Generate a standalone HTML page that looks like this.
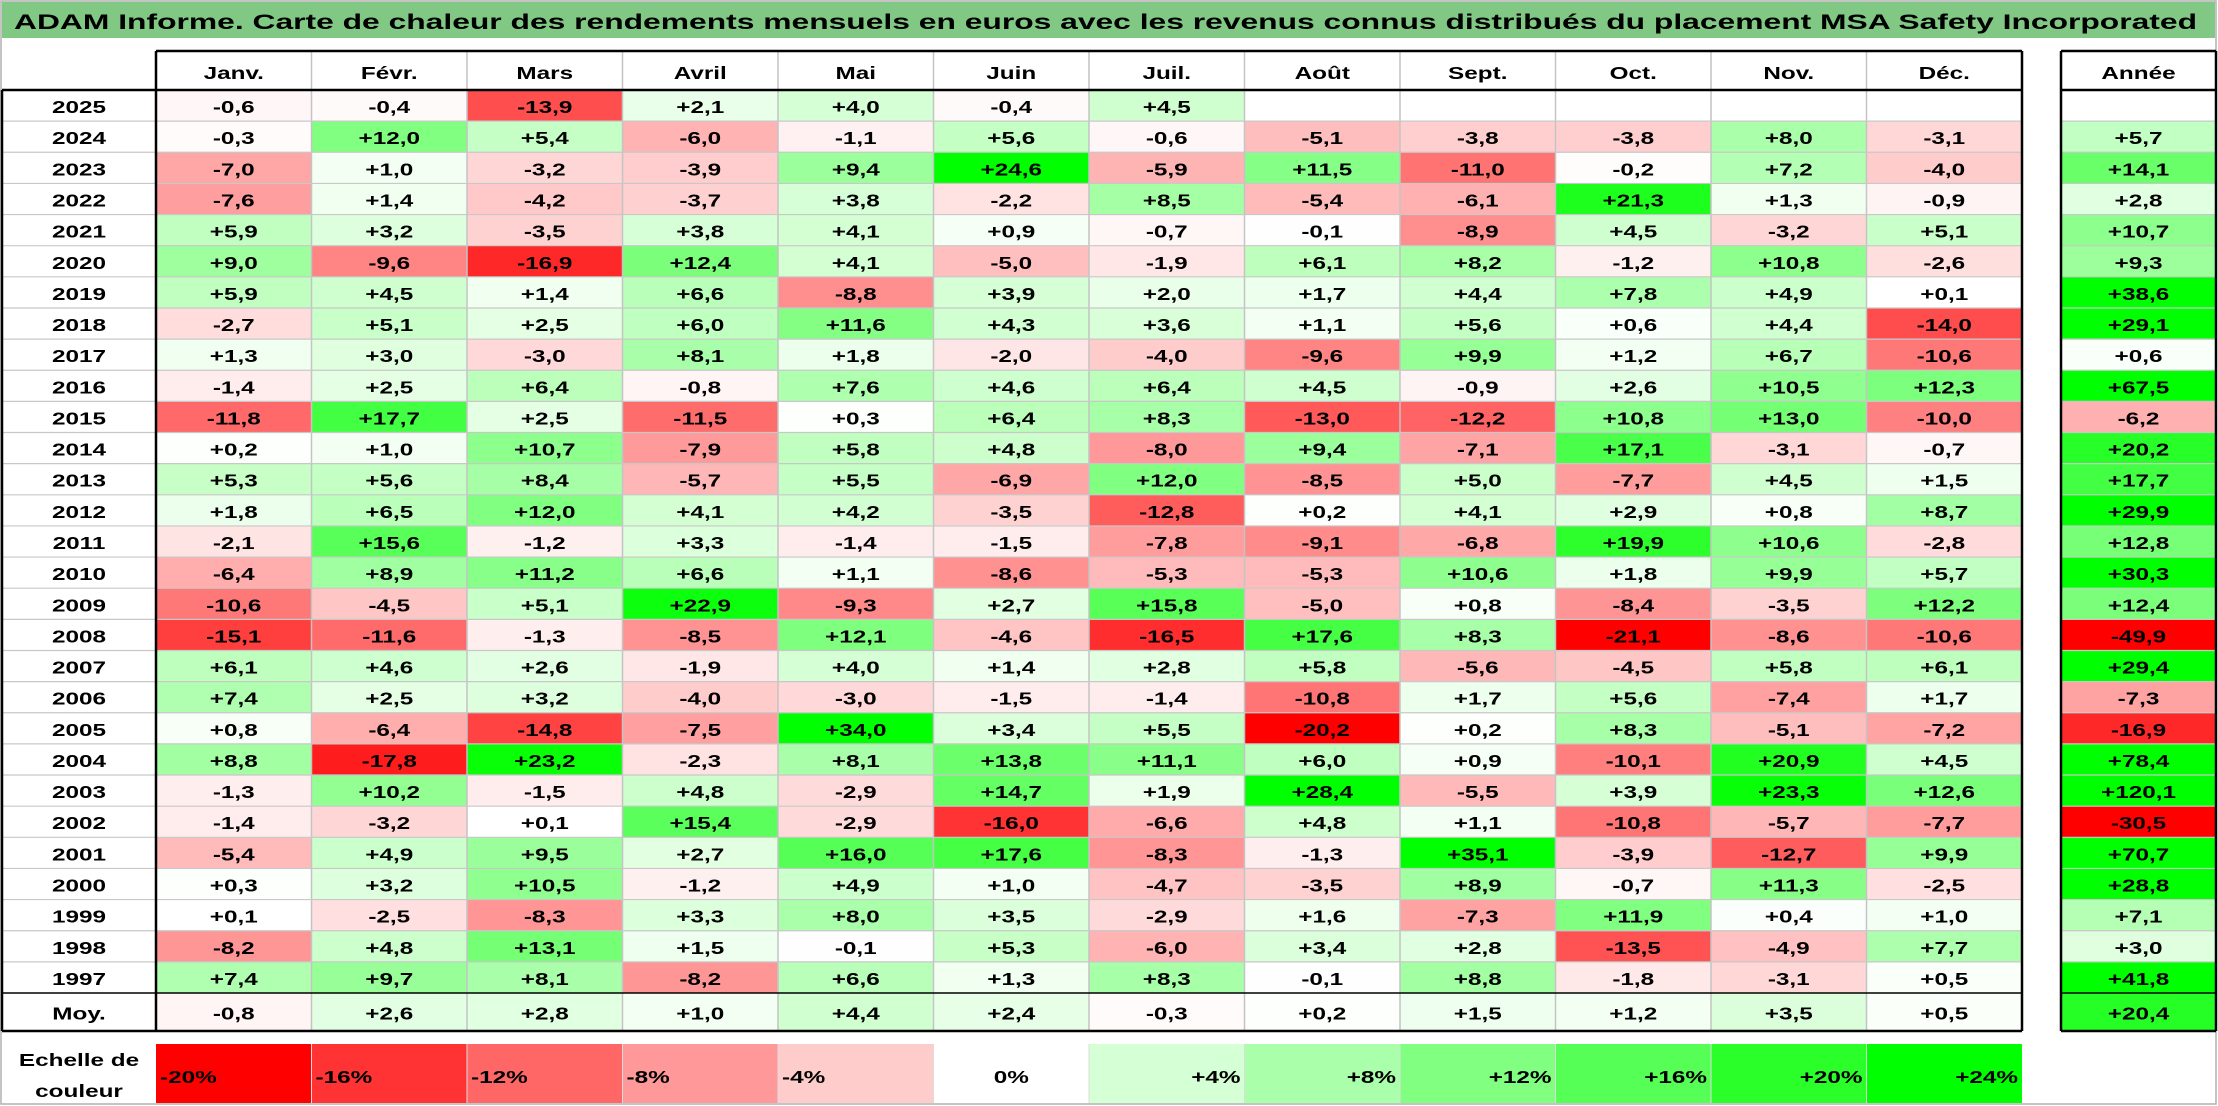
<!DOCTYPE html>
<html><head><meta charset="utf-8"><style>
html,body{margin:0;padding:0;background:#fff;}
svg{display:block;font-family:"Liberation Sans",sans-serif;font-weight:bold;}
</style></head><body>
<svg id="chart" width="2218" height="1106" viewBox="0 0 2218 1106" xmlns="http://www.w3.org/2000/svg">
<rect x="1" y="1" width="2215" height="1103" fill="#fff" stroke="#b0b0b0" stroke-width="1.5"/>
<rect x="2" y="2" width="2213" height="36" fill="#80c883"/>
<text x="14" y="29" font-size="21" textLength="2183" lengthAdjust="spacingAndGlyphs" fill="#000">ADAM Informe. Carte de chaleur des rendements mensuels en euros avec les revenus connus distribués du placement MSA Safety Incorporated</text>
<g id="cells"></g>
<g id="lines"></g>
<g id="texts"></g>
</svg>
<script>
const months = ["Janv.","Févr.","Mars","Avril","Mai","Juin","Juil.","Août","Sept.","Oct.","Nov.","Déc."];
const years = ["2025","2024","2023","2022","2021","2020","2019","2018","2017","2016","2015","2014","2013","2012","2011","2010","2009","2008","2007","2006","2005","2004","2003","2002","2001","2000","1999","1998","1997"];
const values = [
[-0.6,-0.4,-13.9,2.1,4.0,-0.4,4.5,null,null,null,null,null],
[-0.3,12.0,5.4,-6.0,-1.1,5.6,-0.6,-5.1,-3.8,-3.8,8.0,-3.1],
[-7.0,1.0,-3.2,-3.9,9.4,24.6,-5.9,11.5,-11.0,-0.2,7.2,-4.0],
[-7.6,1.4,-4.2,-3.7,3.8,-2.2,8.5,-5.4,-6.1,21.3,1.3,-0.9],
[5.9,3.2,-3.5,3.8,4.1,0.9,-0.7,-0.1,-8.9,4.5,-3.2,5.1],
[9.0,-9.6,-16.9,12.4,4.1,-5.0,-1.9,6.1,8.2,-1.2,10.8,-2.6],
[5.9,4.5,1.4,6.6,-8.8,3.9,2.0,1.7,4.4,7.8,4.9,0.1],
[-2.7,5.1,2.5,6.0,11.6,4.3,3.6,1.1,5.6,0.6,4.4,-14.0],
[1.3,3.0,-3.0,8.1,1.8,-2.0,-4.0,-9.6,9.9,1.2,6.7,-10.6],
[-1.4,2.5,6.4,-0.8,7.6,4.6,6.4,4.5,-0.9,2.6,10.5,12.3],
[-11.8,17.7,2.5,-11.5,0.3,6.4,8.3,-13.0,-12.2,10.8,13.0,-10.0],
[0.2,1.0,10.7,-7.9,5.8,4.8,-8.0,9.4,-7.1,17.1,-3.1,-0.7],
[5.3,5.6,8.4,-5.7,5.5,-6.9,12.0,-8.5,5.0,-7.7,4.5,1.5],
[1.8,6.5,12.0,4.1,4.2,-3.5,-12.8,0.2,4.1,2.9,0.8,8.7],
[-2.1,15.6,-1.2,3.3,-1.4,-1.5,-7.8,-9.1,-6.8,19.9,10.6,-2.8],
[-6.4,8.9,11.2,6.6,1.1,-8.6,-5.3,-5.3,10.6,1.8,9.9,5.7],
[-10.6,-4.5,5.1,22.9,-9.3,2.7,15.8,-5.0,0.8,-8.4,-3.5,12.2],
[-15.1,-11.6,-1.3,-8.5,12.1,-4.6,-16.5,17.6,8.3,-21.1,-8.6,-10.6],
[6.1,4.6,2.6,-1.9,4.0,1.4,2.8,5.8,-5.6,-4.5,5.8,6.1],
[7.4,2.5,3.2,-4.0,-3.0,-1.5,-1.4,-10.8,1.7,5.6,-7.4,1.7],
[0.8,-6.4,-14.8,-7.5,34.0,3.4,5.5,-20.2,0.2,8.3,-5.1,-7.2],
[8.8,-17.8,23.2,-2.3,8.1,13.8,11.1,6.0,0.9,-10.1,20.9,4.5],
[-1.3,10.2,-1.5,4.8,-2.9,14.7,1.9,28.4,-5.5,3.9,23.3,12.6],
[-1.4,-3.2,0.1,15.4,-2.9,-16.0,-6.6,4.8,1.1,-10.8,-5.7,-7.7],
[-5.4,4.9,9.5,2.7,16.0,17.6,-8.3,-1.3,35.1,-3.9,-12.7,9.9],
[0.3,3.2,10.5,-1.2,4.9,1.0,-4.7,-3.5,8.9,-0.7,11.3,-2.5],
[0.1,-2.5,-8.3,3.3,8.0,3.5,-2.9,1.6,-7.3,11.9,0.4,1.0],
[-8.2,4.8,13.1,1.5,-0.1,5.3,-6.0,3.4,2.8,-13.5,-4.9,7.7],
[7.4,9.7,8.1,-8.2,6.6,1.3,8.3,-0.1,8.8,-1.8,-3.1,0.5]
];
const yearTotals = [null,5.7,14.1,2.8,10.7,9.3,38.6,29.1,0.6,67.5,-6.2,20.2,17.7,29.9,12.8,30.3,12.4,-49.9,29.4,-7.3,-16.9,78.4,120.1,-30.5,70.7,28.8,7.1,3.0,41.8];
const monthAvg = [-0.8,2.6,2.8,1.0,4.4,2.4,-0.3,0.2,1.5,1.2,3.5,0.5];
const avgTotal = 20.4;
const scaleTicks = [-20,-16,-12,-8,-4,0,4,8,12,16,20,24];

const NS = "http://www.w3.org/2000/svg";
const X0 = 156, CW = (2022 - 156) / 12, LX = 2, YX0 = 2061, YX1 = 2216;
const HY0 = 51, HY1 = 90, RH = (993 - 90) / 29, MY1 = 1031, SY0 = 1044, SY1 = 1103;
const SX = 1.35, FS = 18;
function colX(i){ return X0 + i * CW; }
function rowY(j){ return HY1 + j * RH; }
function color(v){
  if (v === null) return "#ffffff";
  let r, g, b;
  if (v < 0){ const t = Math.min(1, -v / 20); r = 255; g = b = Math.round(255 * (1 - t)); }
  else { const t = Math.min(1, v / 24); g = 255; r = b = Math.round(255 * (1 - t)); }
  return "rgb(" + r + "," + g + "," + b + ")";
}
function fmt(v){ if (v === null) return ""; return (v > 0 ? "+" : (v < 0 ? "-" : "+")) + Math.abs(v).toFixed(1).replace(".", ","); }
const gC = document.getElementById("cells"), gL = document.getElementById("lines"), gT = document.getElementById("texts");
function rect(x, y, w, h, fill, name){
  const r = document.createElementNS(NS, "rect");
  r.setAttribute("x", x); r.setAttribute("y", y); r.setAttribute("width", w); r.setAttribute("height", h);
  r.setAttribute("fill", fill);
  
  
  gC.appendChild(r); return r;
}
function line(x1, y1, x2, y2, stroke, sw){
  const l = document.createElementNS(NS, "line");
  l.setAttribute("x1", x1); l.setAttribute("y1", y1); l.setAttribute("x2", x2); l.setAttribute("y2", y2);
  l.setAttribute("stroke", stroke); l.setAttribute("stroke-width", sw);
  
  
  gL.appendChild(l);
}
function text(x, y, s, name, anchor, scale){
  const g = document.createElementNS(NS, "g");
  g.setAttribute("transform", "translate(" + x + "," + y + ") scale(" + (scale || SX) + ",1)");
  const t = document.createElementNS(NS, "text");
  t.setAttribute("x", 0); t.setAttribute("y", 0);
  t.setAttribute("font-size", FS);
  t.setAttribute("text-anchor", anchor || "middle");
  t.textContent = s;
  
  
  g.appendChild(t); gT.appendChild(g);
}
// header
rect(X0, HY0, 2022 - X0, HY1 - HY0, "#fff", "month-header-row");
rect(YX0, HY0, YX1 - YX0, HY1 - HY0, "#fff", "year-header");
months.forEach((m, i) => text(colX(i) + CW / 2, 79, m, "month-header-" + i));
text((YX0 + YX1) / 2, 79, "Année", "year-header-label");
// data cells
years.forEach((yr, j) => {
  const y = rowY(j);
  text(LX + (X0 - LX) / 2, y + RH / 2 + 7.5, yr, "row-label-" + yr);
  values[j].forEach((v, i) => {
    rect(colX(i), y, CW, RH, color(v), "cell-" + yr + "-" + i);
    if (v !== null) text(colX(i) + CW / 2, y + RH / 2 + 7.5, fmt(v), "cell-value-" + yr + "-" + i);
  });
  const yt = yearTotals[j];
  rect(YX0, y, YX1 - YX0, RH, color(yt), "year-total-" + yr);
  if (yt !== null) text((YX0 + YX1) / 2, y + RH / 2 + 7.5, fmt(yt), "year-total-value-" + yr);
});
// averages
const my0 = rowY(29), mh = MY1 - my0;
text(LX + (X0 - LX) / 2, my0 + mh / 2 + 7.5, "Moy.", "average-row-label");
monthAvg.forEach((v, i) => {
  rect(colX(i), my0, CW, mh, color(v), "average-cell-" + i);
  text(colX(i) + CW / 2, my0 + mh / 2 + 7.5, fmt(v), "average-value-" + i);
});
rect(YX0, my0, YX1 - YX0, mh, color(avgTotal), "average-year-total");
text((YX0 + YX1) / 2, my0 + mh / 2 + 7.5, fmt(avgTotal), "average-year-total-value");
// grid (light)
for (let i = 1; i < 12; i++) line(colX(i), HY0, colX(i), MY1, "#c4c4c4", 1.5);
for (let j = 1; j < 29; j++) { line(LX, rowY(j), 2022, rowY(j), "#c8c8c8", 1.2); line(YX0, rowY(j), YX1, rowY(j), "#c8c8c8", 1.2); }
// thick borders
const K = "#000", W = 2.5;
line(X0, HY0, 2022, HY0, K, W); line(X0, HY0, X0, MY1, K, W); line(2022, HY0, 2022, MY1, K, W);
line(LX, HY1, 2022, HY1, K, W); line(LX, HY1, LX, MY1, K, W); line(LX, my0, 2022, my0, K, 1.5); line(LX, MY1, 2022, MY1, K, W);
line(YX0, HY0, YX1, HY0, K, W); line(YX0, HY1, YX1, HY1, K, W); line(YX0, HY0, YX0, MY1, K, W); line(YX1, HY0, YX1, MY1, K, W);
line(YX0, my0, YX1, my0, K, 1.5); line(YX0, MY1, YX1, MY1, K, W);
// color scale
text(LX + (X0 - LX) / 2, 1066, "Echelle de", "scale-label-line1");
text(LX + (X0 - LX) / 2, 1097, "couleur", "scale-label-line2");
scaleTicks.forEach((v, i) => {
  rect(colX(i), SY0, CW, SY1 - SY0, color(v), "scale-swatch-" + i);
  const lbl = (v > 0 ? "+" : "") + v + "%";
  if (v < 0) text(colX(i) + 4, 1083, lbl, "scale-tick-" + i, "start");
  else if (v === 0) text(colX(i) + CW / 2, 1083, lbl, "scale-tick-" + i, "middle");
  else text(colX(i + 1) - 4, 1083, lbl, "scale-tick-" + i, "end");
});
for (let i = 1; i < 12; i++) line(colX(i), SY0, colX(i), SY1, "#dcdcdc", 1);
</script>
</body></html>
